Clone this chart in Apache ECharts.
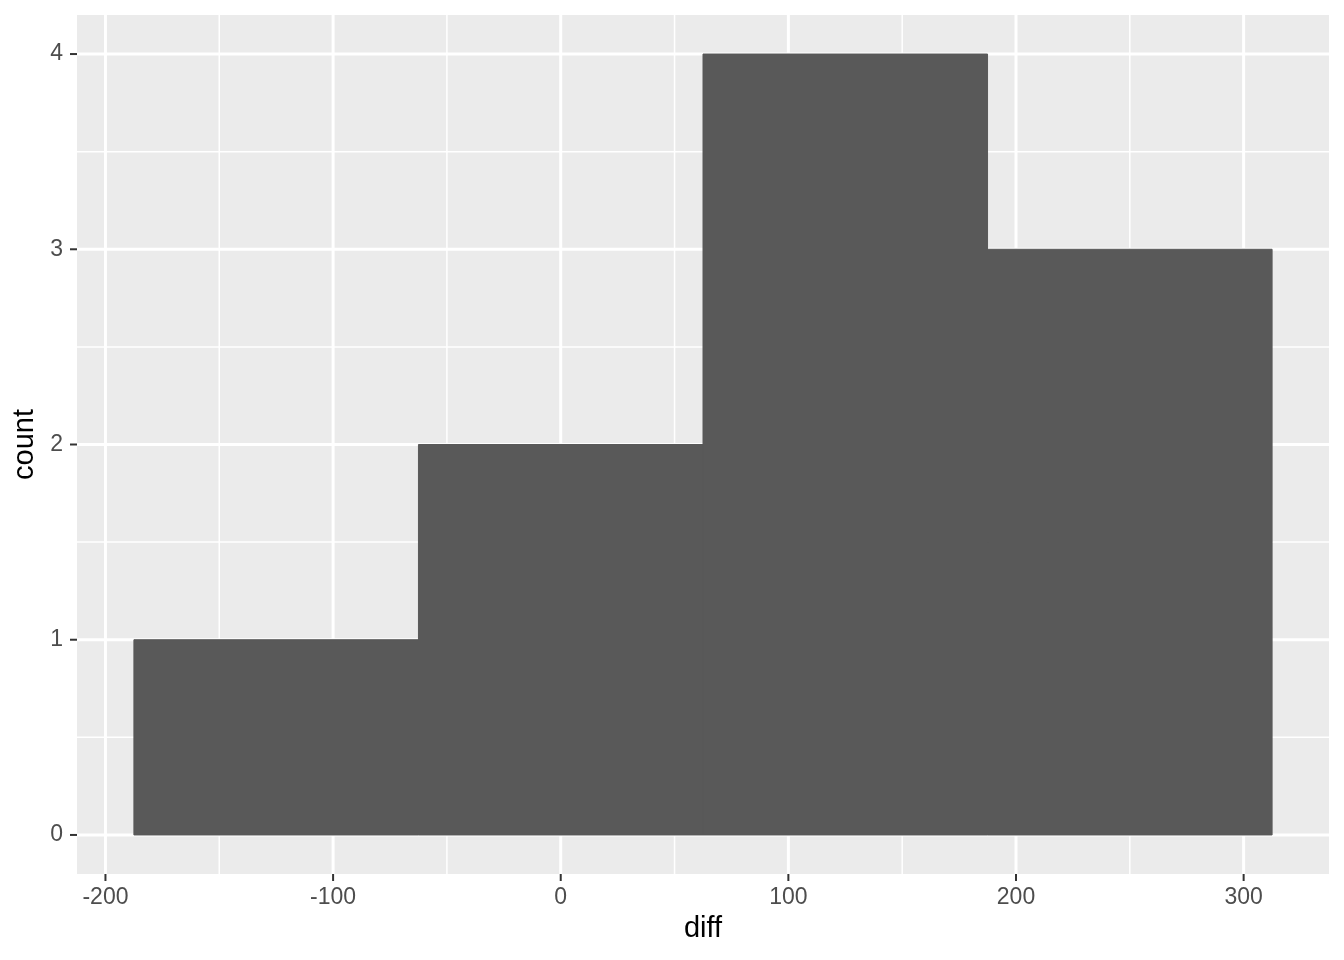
<!DOCTYPE html>
<html>
<head>
<meta charset="utf-8">
<script src="https://cdn.jsdelivr.net/npm/echarts@6/dist/echarts.min.js"></script>
<style>
  html, body { margin: 0; background: #fff; }
  #chart { width: 1344px; height: 960px; }
</style>
</head>
<body>
<div id="chart"></div>
<script>
// histogram bins (binwidth 125)
const binStart = [-187.5, -62.5, 62.5, 187.5];
const binEnd = [-62.5, 62.5, 187.5, 312.5];
const counts = [1, 2, 4, 3];

// ggplot-style breaks
const xBreaks = [-200, -100, 0, 100, 200, 300];
const xMinor = [-150, -50, 50, 150, 250];
const yBreaks = [0, 1, 2, 3, 4];
const yMinor = [0.5, 1.5, 2.5, 3.5];

const FONT = 'Liberation Sans, Arial, Helvetica, sans-serif';

// gridline items: [value, dim, lineWidth]
const gridData = [
  ...xMinor.map(v => [v, 0, 1.5]),
  ...yMinor.map(v => [v, 1, 1.5]),
  ...xBreaks.map(v => [v, 0, 3]),
  ...yBreaks.map(v => [v, 1, 3]),
];
// tick items: [value, dim]
const tickData = [
  ...xBreaks.map(v => [v, 0]),
  ...yBreaks.map(v => [v, 1]),
];

const chart = echarts.init(document.getElementById('chart'), null, { renderer: 'canvas' });

chart.setOption({
  animation: false,
  grid: {
    left: 77, right: 15, top: 15, bottom: 86,
    outerBoundsMode: 'none',
    containLabel: false,
    show: true, backgroundColor: '#EBEBEB', borderWidth: 0,
  },
  xAxis: {
    type: 'value',
    min: -212.5, max: 337.5,
    name: 'diff',
    nameLocation: 'middle',
    nameGap: 40,
    nameTextStyle: { fontSize: 29, color: '#000', fontFamily: FONT },
    axisLine: { show: false },
    splitLine: { show: false },
    axisTick: { show: false },
    axisLabel: { customValues: xBreaks, fontSize: 23, color: '#4D4D4D', fontFamily: FONT, margin: 12 },
  },
  yAxis: {
    type: 'value',
    min: -0.2, max: 4.2,
    name: 'count',
    nameLocation: 'middle',
    nameGap: 37,
    nameTextStyle: { fontSize: 29, color: '#000', fontFamily: FONT },
    axisLine: { show: false },
    splitLine: { show: false },
    axisTick: { show: false },
    axisLabel: { customValues: yBreaks, fontSize: 23, color: '#4D4D4D', fontFamily: FONT, margin: 14 },
  },
  series: [
    {
      type: 'custom',
      silent: true,
      z: 1,
      data: gridData,
      renderItem(params, api) {
        const cs = params.coordSys;
        const v = api.value(0);
        const dim = api.value(1);
        const w = api.value(2);
        let shape;
        if (dim === 0) {
          const x = api.coord([v, 0])[0];
          shape = { x1: x, y1: cs.y, x2: x, y2: cs.y + cs.height };
        } else {
          const y = api.coord([0, v])[1];
          shape = { x1: cs.x, y1: y, x2: cs.x + cs.width, y2: y };
        }
        return { type: 'line', shape, style: { stroke: '#FFFFFF', lineWidth: w } };
      },
    },
    {
      type: 'custom',
      silent: true,
      z: 3,
      clip: false,
      data: tickData,
      renderItem(params, api) {
        const cs = params.coordSys;
        const v = api.value(0);
        const dim = api.value(1);
        let shape;
        if (dim === 0) {
          const x = api.coord([v, 0])[0];
          const y0 = cs.y + cs.height;
          shape = { x1: x, y1: y0, x2: x, y2: y0 + 7 };
        } else {
          const y = api.coord([0, v])[1];
          shape = { x1: cs.x - 7, y1: y, x2: cs.x, y2: y };
        }
        return { type: 'line', shape, style: { stroke: '#333333', lineWidth: 2 } };
      },
    },
    {
      type: 'custom',
      z: 2,
      data: counts.map((c, i) => [binStart[i], binEnd[i], c]),
      renderItem(params, api) {
        const p0 = api.coord([api.value(0), api.value(2)]);
        const p1 = api.coord([api.value(1), 0]);
        return {
          type: 'rect',
          shape: { x: p0[0], y: p0[1], width: p1[0] - p0[0], height: p1[1] - p0[1] },
          // same-colour stroke hides anti-aliasing seams between adjacent bins
          style: { fill: '#595959', stroke: '#595959', lineWidth: 1 },
        };
      },
    },
  ],
});
</script>
</body>
</html>
